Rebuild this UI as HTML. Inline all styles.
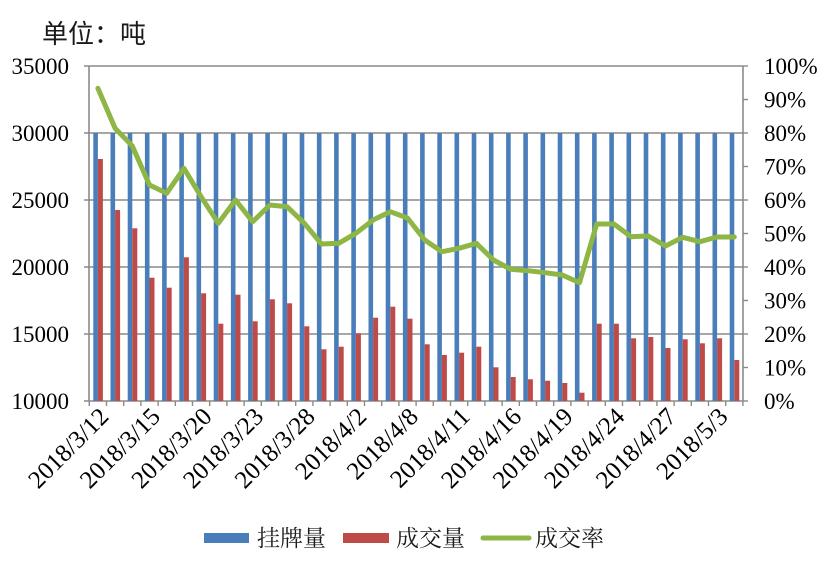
<!DOCTYPE html>
<html><head><meta charset="utf-8"><style>
body{margin:0;background:#fff;}
svg{display:block}
.s{font-family:"Liberation Serif",serif;font-size:23px;fill:#000}
.x{font-family:"Liberation Serif",serif;font-size:25px;fill:#000}
.c{font-family:"Liberation Serif","Noto Serif CJK SC",serif;font-size:23px;fill:#1a1a1a}
</style></head><body>
<svg width="830" height="570" viewBox="0 0 830 570" xmlns="http://www.w3.org/2000/svg">
<rect width="830" height="570" fill="#fff"/>
<text x="42" y="43" style="font-family:'Liberation Sans','Noto Sans CJK SC',sans-serif;font-size:26px" fill="#1a1a1a">单位：吨</text>
<g stroke="#8a8a8a" stroke-width="1.6">
<line x1="84" y1="66" x2="743" y2="66"/><line x1="84" y1="133" x2="743" y2="133"/><line x1="84" y1="200" x2="743" y2="200"/><line x1="84" y1="267" x2="743" y2="267"/><line x1="84" y1="334" x2="743" y2="334"/><line x1="84" y1="401" x2="743" y2="401"/>
<line x1="89" y1="66" x2="89" y2="401"/><line x1="743" y1="66" x2="743" y2="401"/>
</g>
<g stroke="#8a8a8a" stroke-width="1.4">
<line x1="743" y1="99.5" x2="748" y2="99.5"/><line x1="743" y1="133" x2="748" y2="133"/><line x1="743" y1="166.5" x2="748" y2="166.5"/><line x1="743" y1="200" x2="748" y2="200"/><line x1="743" y1="233.5" x2="748" y2="233.5"/><line x1="743" y1="267" x2="748" y2="267"/><line x1="743" y1="300.5" x2="748" y2="300.5"/><line x1="743" y1="334" x2="748" y2="334"/><line x1="743" y1="367.5" x2="748" y2="367.5"/><line x1="743" y1="66" x2="748" y2="66"/><line x1="743" y1="401" x2="748" y2="401"/>
</g>
<g class="s" text-anchor="end">
<text x="69" y="74">35000</text><text x="69" y="141">30000</text><text x="69" y="208">25000</text><text x="69" y="275">20000</text><text x="69" y="342">15000</text><text x="69" y="409">10000</text>
</g>
<g class="s" text-anchor="start">
<text x="764" y="74">100%</text><text x="764" y="107.5">90%</text><text x="764" y="141">80%</text><text x="764" y="174.5">70%</text><text x="764" y="208">60%</text><text x="764" y="241.5">50%</text><text x="764" y="275">40%</text><text x="764" y="308.5">30%</text><text x="764" y="342">20%</text><text x="764" y="375.5">10%</text><text x="764" y="409">0%</text>
</g>
<g>
<g transform="translate(89.3)"><rect x="4" y="133" width="4.6" height="268" fill="#4a7ebb"/><rect x="8.6" y="159" width="5" height="242" fill="#be4b48"/></g>
<g transform="translate(106.5)"><rect x="4" y="133" width="4.6" height="268" fill="#4a7ebb"/><rect x="8.6" y="210" width="5" height="191" fill="#be4b48"/></g>
<g transform="translate(123.7)"><rect x="4" y="133" width="4.6" height="268" fill="#4a7ebb"/><rect x="8.6" y="228.3" width="5" height="172.7" fill="#be4b48"/></g>
<g transform="translate(140.9)"><rect x="4" y="133" width="4.6" height="268" fill="#4a7ebb"/><rect x="8.6" y="277.7" width="5" height="123.3" fill="#be4b48"/></g>
<g transform="translate(158.1)"><rect x="4" y="133" width="4.6" height="268" fill="#4a7ebb"/><rect x="8.6" y="287.7" width="5" height="113.3" fill="#be4b48"/></g>
<g transform="translate(175.3)"><rect x="4" y="133" width="4.6" height="268" fill="#4a7ebb"/><rect x="8.6" y="257.3" width="5" height="143.7" fill="#be4b48"/></g>
<g transform="translate(192.5)"><rect x="4" y="133" width="4.6" height="268" fill="#4a7ebb"/><rect x="8.6" y="293.3" width="5" height="107.7" fill="#be4b48"/></g>
<g transform="translate(209.7)"><rect x="4" y="133" width="4.6" height="268" fill="#4a7ebb"/><rect x="8.6" y="323.7" width="5" height="77.3" fill="#be4b48"/></g>
<g transform="translate(226.9)"><rect x="4" y="133" width="4.6" height="268" fill="#4a7ebb"/><rect x="8.6" y="294.7" width="5" height="106.3" fill="#be4b48"/></g>
<g transform="translate(244.1)"><rect x="4" y="133" width="4.6" height="268" fill="#4a7ebb"/><rect x="8.6" y="321.3" width="5" height="79.7" fill="#be4b48"/></g>
<g transform="translate(261.3)"><rect x="4" y="133" width="4.6" height="268" fill="#4a7ebb"/><rect x="8.6" y="299.3" width="5" height="101.7" fill="#be4b48"/></g>
<g transform="translate(278.5)"><rect x="4" y="133" width="4.6" height="268" fill="#4a7ebb"/><rect x="8.6" y="303.3" width="5" height="97.7" fill="#be4b48"/></g>
<g transform="translate(295.7)"><rect x="4" y="133" width="4.6" height="268" fill="#4a7ebb"/><rect x="8.6" y="326.3" width="5" height="74.7" fill="#be4b48"/></g>
<g transform="translate(312.9)"><rect x="4" y="133" width="4.6" height="268" fill="#4a7ebb"/><rect x="8.6" y="349.3" width="5" height="51.7" fill="#be4b48"/></g>
<g transform="translate(330.1)"><rect x="4" y="133" width="4.6" height="268" fill="#4a7ebb"/><rect x="8.6" y="346.7" width="5" height="54.3" fill="#be4b48"/></g>
<g transform="translate(347.3)"><rect x="4" y="133" width="4.6" height="268" fill="#4a7ebb"/><rect x="8.6" y="333.3" width="5" height="67.7" fill="#be4b48"/></g>
<g transform="translate(364.5)"><rect x="4" y="133" width="4.6" height="268" fill="#4a7ebb"/><rect x="8.6" y="317.7" width="5" height="83.3" fill="#be4b48"/></g>
<g transform="translate(381.7)"><rect x="4" y="133" width="4.6" height="268" fill="#4a7ebb"/><rect x="8.6" y="306.7" width="5" height="94.3" fill="#be4b48"/></g>
<g transform="translate(398.9)"><rect x="4" y="133" width="4.6" height="268" fill="#4a7ebb"/><rect x="8.6" y="318.7" width="5" height="82.3" fill="#be4b48"/></g>
<g transform="translate(416.1)"><rect x="4" y="133" width="4.6" height="268" fill="#4a7ebb"/><rect x="8.6" y="344.3" width="5" height="56.7" fill="#be4b48"/></g>
<g transform="translate(433.3)"><rect x="4" y="133" width="4.6" height="268" fill="#4a7ebb"/><rect x="8.6" y="355" width="5" height="46" fill="#be4b48"/></g>
<g transform="translate(450.5)"><rect x="4" y="133" width="4.6" height="268" fill="#4a7ebb"/><rect x="8.6" y="352.7" width="5" height="48.3" fill="#be4b48"/></g>
<g transform="translate(467.7)"><rect x="4" y="133" width="4.6" height="268" fill="#4a7ebb"/><rect x="8.6" y="346.7" width="5" height="54.3" fill="#be4b48"/></g>
<g transform="translate(484.9)"><rect x="4" y="133" width="4.6" height="268" fill="#4a7ebb"/><rect x="8.6" y="367.3" width="5" height="33.7" fill="#be4b48"/></g>
<g transform="translate(502.1)"><rect x="4" y="133" width="4.6" height="268" fill="#4a7ebb"/><rect x="8.6" y="377" width="5" height="24" fill="#be4b48"/></g>
<g transform="translate(519.3)"><rect x="4" y="133" width="4.6" height="268" fill="#4a7ebb"/><rect x="8.6" y="379.3" width="5" height="21.7" fill="#be4b48"/></g>
<g transform="translate(536.5)"><rect x="4" y="133" width="4.6" height="268" fill="#4a7ebb"/><rect x="8.6" y="380.7" width="5" height="20.3" fill="#be4b48"/></g>
<g transform="translate(553.7)"><rect x="4" y="133" width="4.6" height="268" fill="#4a7ebb"/><rect x="8.6" y="383" width="5" height="18" fill="#be4b48"/></g>
<g transform="translate(570.9)"><rect x="4" y="133" width="4.6" height="268" fill="#4a7ebb"/><rect x="8.6" y="392.7" width="5" height="8.3" fill="#be4b48"/></g>
<g transform="translate(588.1)"><rect x="4" y="133" width="4.6" height="268" fill="#4a7ebb"/><rect x="8.6" y="323.7" width="5" height="77.3" fill="#be4b48"/></g>
<g transform="translate(605.3)"><rect x="4" y="133" width="4.6" height="268" fill="#4a7ebb"/><rect x="8.6" y="323.7" width="5" height="77.3" fill="#be4b48"/></g>
<g transform="translate(622.5)"><rect x="4" y="133" width="4.6" height="268" fill="#4a7ebb"/><rect x="8.6" y="338.3" width="5" height="62.7" fill="#be4b48"/></g>
<g transform="translate(639.7)"><rect x="4" y="133" width="4.6" height="268" fill="#4a7ebb"/><rect x="8.6" y="337" width="5" height="64" fill="#be4b48"/></g>
<g transform="translate(656.9)"><rect x="4" y="133" width="4.6" height="268" fill="#4a7ebb"/><rect x="8.6" y="348" width="5" height="53" fill="#be4b48"/></g>
<g transform="translate(674.1)"><rect x="4" y="133" width="4.6" height="268" fill="#4a7ebb"/><rect x="8.6" y="339.3" width="5" height="61.7" fill="#be4b48"/></g>
<g transform="translate(691.3)"><rect x="4" y="133" width="4.6" height="268" fill="#4a7ebb"/><rect x="8.6" y="343.3" width="5" height="57.7" fill="#be4b48"/></g>
<g transform="translate(708.5)"><rect x="4" y="133" width="4.6" height="268" fill="#4a7ebb"/><rect x="8.6" y="338.3" width="5" height="62.7" fill="#be4b48"/></g>
<g transform="translate(725.7)"><rect x="4" y="133" width="4.6" height="268" fill="#4a7ebb"/><rect x="8.6" y="360" width="5" height="41" fill="#be4b48"/></g>
</g>
<g stroke="#8a8a8a" stroke-width="1.4">
<line x1="89.3" y1="401" x2="89.3" y2="406"/><line x1="106.5" y1="401" x2="106.5" y2="406"/><line x1="123.7" y1="401" x2="123.7" y2="406"/><line x1="140.9" y1="401" x2="140.9" y2="406"/><line x1="158.1" y1="401" x2="158.1" y2="406"/><line x1="175.3" y1="401" x2="175.3" y2="406"/><line x1="192.5" y1="401" x2="192.5" y2="406"/><line x1="209.7" y1="401" x2="209.7" y2="406"/><line x1="226.9" y1="401" x2="226.9" y2="406"/><line x1="244.1" y1="401" x2="244.1" y2="406"/><line x1="261.3" y1="401" x2="261.3" y2="406"/><line x1="278.5" y1="401" x2="278.5" y2="406"/><line x1="295.7" y1="401" x2="295.7" y2="406"/><line x1="312.9" y1="401" x2="312.9" y2="406"/><line x1="330.1" y1="401" x2="330.1" y2="406"/><line x1="347.3" y1="401" x2="347.3" y2="406"/><line x1="364.5" y1="401" x2="364.5" y2="406"/><line x1="381.7" y1="401" x2="381.7" y2="406"/><line x1="398.9" y1="401" x2="398.9" y2="406"/><line x1="416.1" y1="401" x2="416.1" y2="406"/><line x1="433.3" y1="401" x2="433.3" y2="406"/><line x1="450.5" y1="401" x2="450.5" y2="406"/><line x1="467.7" y1="401" x2="467.7" y2="406"/><line x1="484.9" y1="401" x2="484.9" y2="406"/><line x1="502.1" y1="401" x2="502.1" y2="406"/><line x1="519.3" y1="401" x2="519.3" y2="406"/><line x1="536.5" y1="401" x2="536.5" y2="406"/><line x1="553.7" y1="401" x2="553.7" y2="406"/><line x1="570.9" y1="401" x2="570.9" y2="406"/><line x1="588.1" y1="401" x2="588.1" y2="406"/><line x1="605.3" y1="401" x2="605.3" y2="406"/><line x1="622.5" y1="401" x2="622.5" y2="406"/><line x1="639.7" y1="401" x2="639.7" y2="406"/><line x1="656.9" y1="401" x2="656.9" y2="406"/><line x1="674.1" y1="401" x2="674.1" y2="406"/><line x1="691.3" y1="401" x2="691.3" y2="406"/><line x1="708.5" y1="401" x2="708.5" y2="406"/><line x1="725.7" y1="401" x2="725.7" y2="406"/><line x1="742.9" y1="401" x2="742.9" y2="406"/>
</g>
<polyline fill="none" stroke="#8db645" stroke-width="5" stroke-linejoin="round" stroke-linecap="round" points="97.9,88.3 115.1,128.3 132.3,146 149.5,185 166.7,193.3 183.9,168.3 201.1,196.7 218.3,223.3 235.5,200 252.7,221.7 269.9,205 287.1,206.7 304.3,223.3 321.5,244 338.7,243.3 355.9,233.3 373.1,220 390.3,211.7 407.5,218 424.7,240 441.9,251.7 459.1,248.3 476.3,243.3 493.5,260 510.7,269.3 527.9,270.7 545.1,272.7 562.3,275 579.5,282.7 596.7,224 613.9,224 631.1,236.7 648.3,236 665.5,246 682.7,237.3 699.9,241.7 717.1,237 734.3,237"/>
<g class="x" text-anchor="end">
<text transform="translate(110,418) rotate(-45)">2018/3/12</text>
<text transform="translate(161.6,418) rotate(-45)">2018/3/15</text>
<text transform="translate(213.2,418) rotate(-45)">2018/3/20</text>
<text transform="translate(264.8,418) rotate(-45)">2018/3/23</text>
<text transform="translate(316.4,418) rotate(-45)">2018/3/28</text>
<text transform="translate(368,418) rotate(-45)">2018/4/2</text>
<text transform="translate(419.6,418) rotate(-45)">2018/4/8</text>
<text transform="translate(471.2,418) rotate(-45)">2018/4/11</text>
<text transform="translate(522.8,418) rotate(-45)">2018/4/16</text>
<text transform="translate(574.4,418) rotate(-45)">2018/4/19</text>
<text transform="translate(626,418) rotate(-45)">2018/4/24</text>
<text transform="translate(677.6,418) rotate(-45)">2018/4/27</text>
<text transform="translate(729.2,418) rotate(-45)">2018/5/3</text>
</g>
<rect x="204" y="533" width="45" height="10" fill="#4a7ebb"/>
<text class="c" x="257" y="546">挂牌量</text>
<rect x="343" y="533" width="46" height="10" fill="#be4b48"/>
<text class="c" x="396" y="546">成交量</text>
<line x1="483" y1="538" x2="529" y2="538" stroke="#8db645" stroke-width="5" stroke-linecap="round"/>
<text class="c" x="535" y="546">成交率</text>
</svg>
</body></html>
